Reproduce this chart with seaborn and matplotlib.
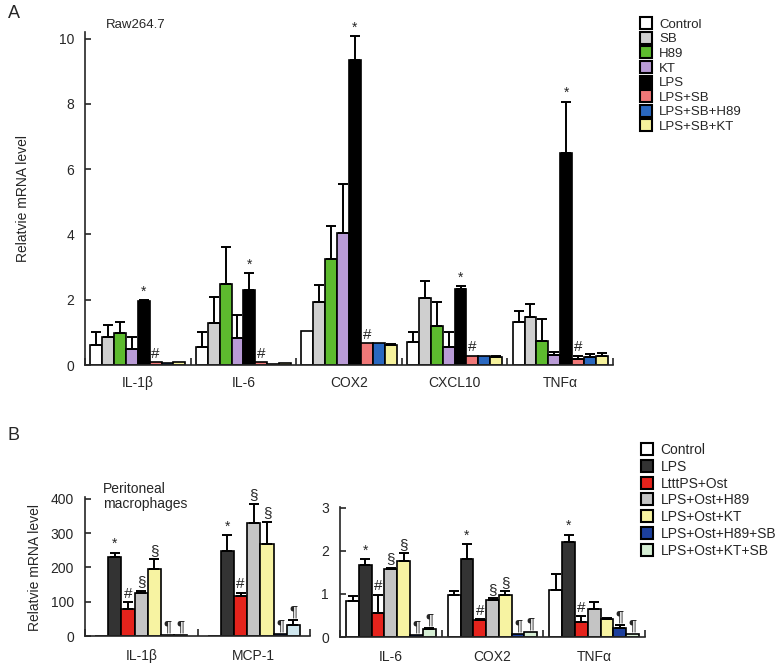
import seaborn as sns
import pandas as pd
import matplotlib.pyplot as plt
from matplotlib.lines import Line2D

# ---- panel A data (Raw264.7) ----
A_GENES = ["IL-1β", "IL-6", "COX2", "CXCL10", "TNFα"]
A_GROUPS = ["Control", "SB", "H89", "KT", "LPS", "LPS+SB", "LPS+SB+H89", "LPS+SB+KT"]

a_control = [0.61, 0.56, 1.04, 0.70, 1.32]
a_sb = [0.85, 1.28, 1.93, 2.06, 1.46]
a_h89 = [0.98, 2.48, 3.24, 1.20, 0.74]
a_kt = [0.48, 0.82, 4.03, 0.55, 0.31]
a_lps = [1.96, 2.30, 9.33, 2.34, 6.48]
a_lps_sb = [0.08, 0.08, 0.67, 0.28, 0.18]
a_lps_sb_h89 = [0.05, 0.04, 0.67, 0.28, 0.24]
a_lps_sb_kt = [0.08, 0.05, 0.60, 0.25, 0.28]

a_control_err = [0.40, 0.44, 0.0, 0.30, 0.34]
a_sb_err = [0.37, 0.79, 0.52, 0.52, 0.41]
a_h89_err = [0.34, 1.14, 1.01, 0.74, 0.66]
a_kt_err = [0.37, 0.71, 1.50, 0.45, 0.09]
a_lps_err = [0.02, 0.51, 0.74, 0.08, 1.59]
a_lps_sb_err = [0.0, 0.0, 0.0, 0.0, 0.10]
a_lps_sb_h89_err = [0.0, 0.0, 0.0, 0.0, 0.11]
a_lps_sb_kt_err = [0.0, 0.0, 0.03, 0.03, 0.10]

a_lps_mark = ["*", "*", "*", "*", "*"]
a_lps_sb_mark = ["#", "#", "#", "#", "#"]

# ---- panel B data (peritoneal macrophages) ----
B_GROUPS = ["Control", "LPS", "LtttPS+Ost", "LPS+Ost+H89", "LPS+Ost+KT",
            "LPS+Ost+H89+SB", "LPS+Ost+KT+SB"]
B1_GENES = ["IL-1β", "MCP-1"]
B2_GENES = ["IL-6", "COX2", "TNFα"]

b1_control = [1, 1]
b1_lps = [231, 249]
b1_ost = [80, 118]
b1_h89 = [126, 330]
b1_kt = [195, 268]
b1_h89_sb = [2, 5]
b1_kt_sb = [3, 31]

b1_control_err = [0, 0]
b1_lps_err = [12, 44]
b1_ost_err = [18, 8]
b1_h89_err = [6, 55]
b1_kt_err = [28, 65]
b1_h89_sb_err = [0, 0]
b1_kt_sb_err = [0, 17]

b1_marks_lps = ["*", "*"]
b1_marks_ost = ["#", "#"]
b1_marks_h89 = ["§", "§"]
b1_marks_kt = ["§", "§"]
b1_marks_h89_sb = ["¶", "¶"]
b1_marks_kt_sb = ["¶", "¶"]

b2_control = [0.83, 0.97, 1.10]
b2_lps = [1.67, 1.81, 2.20]
b2_ost = [0.56, 0.39, 0.35]
b2_h89 = [1.58, 0.87, 0.66]
b2_kt = [1.77, 0.97, 0.42]
b2_h89_sb = [0.05, 0.07, 0.22]
b2_kt_sb = [0.18, 0.12, 0.08]

b2_control_err = [0.12, 0.11, 0.37]
b2_lps_err = [0.14, 0.35, 0.18]
b2_ost_err = [0.42, 0.02, 0.13]
b2_h89_err = [0.03, 0.03, 0.15]
b2_kt_err = [0.18, 0.10, 0.03]
b2_h89_sb_err = [0.0, 0.0, 0.07]
b2_kt_sb_err = [0.03, 0.0, 0.0]

b2_marks_lps = ["*", "*", "*"]
b2_marks_ost = ["#", "#", "#"]
b2_marks_h89 = ["§", "§", ""]
b2_marks_kt = ["§", "§", ""]
b2_marks_h89_sb = ["¶", "¶", "¶"]
b2_marks_kt_sb = ["¶", "¶", "¶"]

PAL_A = ["#ffffff", "#cfcfcf", "#5dbb2e", "#b99bd6", "#000000", "#f07878", "#2a68c0", "#f6f29c"]
PAL_B = ["#ffffff", "#333333", "#e5231c", "#c4c4c4", "#f7f3a2", "#1c3f9c", "#d6eed4"]

sns.set_style("ticks")
plt.rcParams["font.family"] = ["Liberation Sans", "DejaVu Sans"]


def to_long(genes, groups, series):
    rows = []
    for g, vals in zip(groups, series):
        for gene, v in zip(genes, vals):
            rows.append({"gene": gene, "group": g, "value": v})
    return pd.DataFrame(rows)


def draw_panel(ax, genes, groups, series, errs, marks, palette, width, ylim, yticks):
    df = to_long(genes, groups, series)
    sns.barplot(data=df, x="gene", y="value", hue="group", order=genes,
                hue_order=groups, palette=palette, saturation=1,
                edgecolor="black", linewidth=1.2, width=width,
                errorbar=None, legend=False, ax=ax)
    bars = list(ax.containers)
    for i, cont in enumerate(bars):
        for j, bar in enumerate(cont):
            x = bar.get_x() + bar.get_width() / 2
            h = bar.get_height()
            e = errs[i][j]
            if e > 0:
                ax.errorbar(x, h, yerr=[[0], [e]], fmt="none", ecolor="black",
                            elinewidth=1.4, capsize=3.5, capthick=1.4, zorder=1)
            m = marks[i][j]
            if m:
                ax.annotate(m, (x, h + e), xytext=(0, 1), textcoords="offset points",
                            ha="center", va="bottom", fontsize=11 if m != "*" else 10)
    ax.set_xlim(-0.5, len(genes) - 0.5)
    ax.set_ylim(*ylim)
    ax.set_yticks(yticks)
    ax.set_xticks(range(len(genes)))
    ax.set_xticks([k - 0.5 for k in range(len(genes) + 1)], minor=True)
    ax.tick_params(axis="x", which="major", length=0, labelsize=10, pad=8)
    ax.tick_params(axis="x", which="minor", direction="in", length=5, width=1.2)
    ax.tick_params(axis="y", direction="in", length=4, width=1.2, labelsize=10, pad=8)
    ax.set_xlabel("")
    ax.set_ylabel("")
    for s in ["top", "right"]:
        ax.spines[s].set_visible(False)
    for s in ["left", "bottom"]:
        ax.spines[s].set_linewidth(1.2)
    return bars


fig = plt.figure(figsize=(7.77, 6.65), dpi=100)
axA = fig.add_axes([0.1094, 0.4511, 0.6795, 0.5008])
axB1 = fig.add_axes([0.1094, 0.0436, 0.2896, 0.2090])
axB2 = fig.add_axes([0.4376, 0.0421, 0.3925, 0.1955])

none5 = [""] * 5
draw_panel(
    axA, A_GENES, A_GROUPS,
    [a_control, a_sb, a_h89, a_kt, a_lps, a_lps_sb, a_lps_sb_h89, a_lps_sb_kt],
    [a_control_err, a_sb_err, a_h89_err, a_kt_err, a_lps_err, a_lps_sb_err,
     a_lps_sb_h89_err, a_lps_sb_kt_err],
    [none5, none5, none5, none5, a_lps_mark, a_lps_sb_mark, none5, none5],
    PAL_A, 0.9, (0, 10.2), [0, 2, 4, 6, 8, 10])

bars_b1 = draw_panel(
    axB1, B1_GENES, B_GROUPS,
    [b1_control, b1_lps, b1_ost, b1_h89, b1_kt, b1_h89_sb, b1_kt_sb],
    [b1_control_err, b1_lps_err, b1_ost_err, b1_h89_err, b1_kt_err, b1_h89_sb_err, b1_kt_sb_err],
    [["", ""], b1_marks_lps, b1_marks_ost, b1_marks_h89, b1_marks_kt, b1_marks_h89_sb, b1_marks_kt_sb],
    PAL_B, 0.82, (0, 405), [0, 100, 200, 300, 400])

draw_panel(
    axB2, B2_GENES, B_GROUPS,
    [b2_control, b2_lps, b2_ost, b2_h89, b2_kt, b2_h89_sb, b2_kt_sb],
    [b2_control_err, b2_lps_err, b2_ost_err, b2_h89_err, b2_kt_err, b2_h89_sb_err, b2_kt_sb_err],
    [["", "", ""], b2_marks_lps, b2_marks_ost, b2_marks_h89, b2_marks_kt, b2_marks_h89_sb, b2_marks_kt_sb],
    PAL_B, 0.88, (0, 3.02), [0, 1, 2, 3])

# the MCP-1 KT+SB bar is drawn light blue in the original
bars_b1[-1][1].set_facecolor("#cfe6ee")

axB1.tick_params(axis="x", which="major", pad=9)
axB2.tick_params(axis="x", which="major", pad=9)

axA.set_ylabel("Relatvie mRNA level", fontsize=10)
axA.yaxis.set_label_coords(-0.104, 0.5)
axB1.set_ylabel("Relatvie mRNA level", fontsize=10)
axB1.yaxis.set_label_coords(-0.19, 0.49)

axA.text(0.04, 1.02, "Raw264.7", transform=axA.transAxes, fontsize=9.5,
         ha="left", va="center")
axB1.text(0.08, 1.105, "Peritoneal\nmacrophages", transform=axB1.transAxes,
          fontsize=10, ha="left", va="top", linespacing=1.05)

fig.text(0.010, 1 - 14 / 665, "A", fontsize=13, va="center")
fig.text(0.010, 1 - 436 / 665, "B", fontsize=13, va="center")


def handles(groups, palette):
    return [Line2D([], [], ls="", marker="s", markersize=8, markerfacecolor=c,
                   markeredgecolor="black", markeredgewidth=1.5, label=g)
            for g, c in zip(groups, palette)]


fig.legend(handles=handles(A_GROUPS, PAL_A), loc="upper left",
           bbox_to_anchor=(634 / 777, 1 - 12 / 665), frameon=False, fontsize=9.5,
           handlelength=0.8, handletextpad=0.6, labelspacing=0.18, borderpad=0)
fig.legend(handles=handles(B_GROUPS, PAL_B), loc="upper left",
           bbox_to_anchor=(634 / 777, 1 - 436 / 665), frameon=False, fontsize=10,
           handlelength=0.8, handletextpad=0.6, labelspacing=0.2, borderpad=0)

fig.savefig("out.png", dpi=100)
